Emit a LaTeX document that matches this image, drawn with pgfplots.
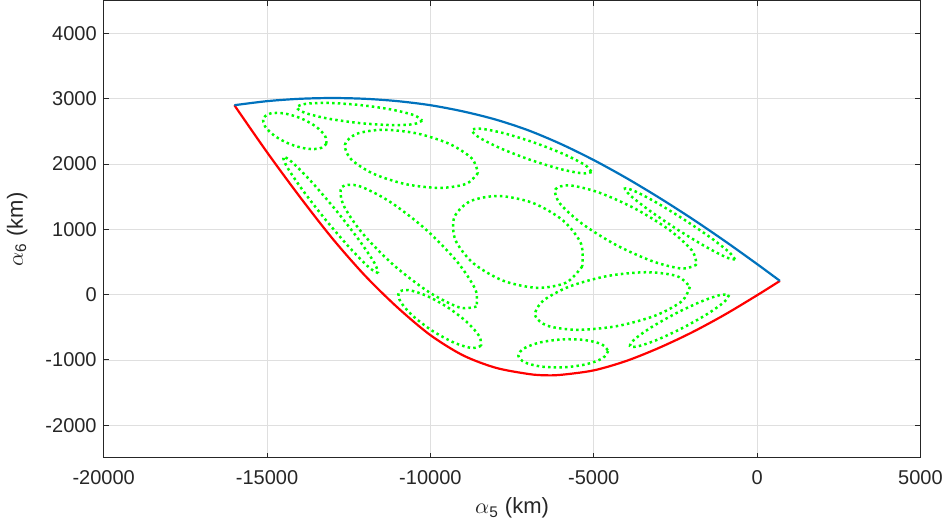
\documentclass[border=0pt]{standalone}
\usepackage{fontspec}
\setmainfont{Liberation Sans}
\usepackage{pgfplots}
\pgfplotsset{compat=1.18}
\definecolor{mblue}{rgb}{0,0.447,0.741}
\definecolor{axgray}{rgb}{0.15,0.15,0.15}
\definecolor{gridgray}{rgb}{0.875,0.875,0.875}
\begin{document}
\begin{tikzpicture}
\begin{axis}[name=ax, scale only axis, width=408.35pt, height=228.6pt,
  xmin=-20000, xmax=5000, ymin=-2500, ymax=4500,
  xtick={-20000,-15000,-10000,-5000,0,5000},
  ytick={-2000,-1000,0,1000,2000,3000,4000},
  scaled ticks=false,
  /pgf/number format/1000 sep={},
  /pgf/number format/assume math mode=true,
  grid=major, major grid style={gridgray, line width=0.4pt},
  axis line style={axgray, line width=0.45pt},
  tick style={axgray, line width=0.45pt}, tick align=inside, major tick length=2.5pt,
  ticklabel style={font=\fontsize{10}{12}\selectfont, text=axgray},
  xticklabel style={yshift=-3pt},
  label style={font=\fontsize{11}{13}\selectfont, text=axgray},
  xlabel={$\alpha$\textsubscript{5} (km)},
  ylabel={$\alpha$\textsubscript{6} (km)},
  xlabel style={at={(axis description cs:0.5,-0.11)}, anchor=center},
  ylabel style={at={(axis description cs:-0.106,0.5)}, anchor=center},
]
% lower boundary
\addplot[red, line width=1.1pt, smooth] coordinates {
(-16000,2900) (-15000,2180) (-14000,1500) (-13000,860) (-12000,290) (-11000,-200)
(-10000,-620) (-9000,-930) (-8000,-1120) (-7000,-1215) (-6500,-1235) (-6000,-1228)
(-5000,-1160) (-4000,-1015) (-3000,-815) (-2000,-580) (-1000,-310) (0,-10) (700,210)};
% upper boundary
\addplot[mblue, line width=1.1pt, smooth] coordinates {
(-16000,2900) (-15000,2962) (-14000,2998) (-13000,3010) (-12000,2998) (-11000,2962)
(-10000,2900) (-9000,2805) (-8000,2680) (-7000,2515) (-6000,2305) (-5000,2060)
(-4000,1785) (-3000,1485) (-2000,1165) (-1000,825) (0,468) (700,210)};
% ellipses
\pgfplotsset{ell/.style={green, line width=1.25pt, dash pattern=on 1.25pt off 1.6pt, smooth}}
\addplot[ell] coordinates {(-13180,2310) (-13390,2237) (-13802,2235) (-14306,2306) (-14767,2430) (-15061,2575) (-15110,2700) (-14900,2773) (-14489,2775) (-13985,2704) (-13524,2580) (-13229,2436) (-13180,2310)};
\addplot[ell] coordinates {(-10252,2664) (-10524,2609) (-11236,2596) (-12199,2628) (-13154,2697) (-13845,2784) (-14088,2866) (-13816,2921) (-13104,2934) (-12141,2902) (-11186,2833) (-10495,2746) (-10252,2664)};
\addplot[ell] coordinates {(-8543,1863) (-8899,1697) (-9704,1634) (-10745,1690) (-11740,1850) (-12425,2072) (-12615,2296) (-12259,2461) (-11454,2524) (-10414,2468) (-9418,2308) (-8733,2086) (-8543,1863)};
\addplot[ell] coordinates {(-11598,329) (-11875,415) (-12467,716) (-13215,1151) (-13918,1605) (-14389,1956) (-14500,2109) (-14223,2024) (-13631,1723) (-12883,1287) (-12180,833) (-11709,482) (-11598,329)};
\addplot[ell] coordinates {(-8589,-182) (-9109,-197) (-10041,38) (-11137,458) (-12101,952) (-12677,1388) (-12709,1648) (-12189,1663) (-11257,1428) (-10161,1008) (-9197,514) (-8621,78) (-8589,-182)};
\addplot[ell] coordinates {(-5353,431) (-5843,184) (-6726,104) (-7766,212) (-8684,480) (-9233,835) (-9268,1183) (-8777,1430) (-7894,1510) (-6854,1402) (-5936,1134) (-5387,779) (-5353,431)};
\addplot[ell] coordinates {(-5064,1877) (-5354,1857) (-6057,1927) (-6985,2071) (-7889,2248) (-8527,2412) (-8728,2519) (-8438,2539) (-7735,2469) (-6807,2325) (-5903,2148) (-5265,1984) (-5064,1877)};
\addplot[ell] coordinates {(-1851,460) (-2288,398) (-3187,508) (-4308,758) (-5349,1083) (-6033,1394) (-6175,1610) (-5738,1672) (-4839,1563) (-3718,1312) (-2677,988) (-1993,676) (-1851,460)};
\addplot[ell] coordinates {(-675,538) (-950,572) (-1604,743) (-2460,1004) (-3289,1286) (-3869,1513) (-4045,1624) (-3770,1590) (-3117,1420) (-2261,1158) (-1431,876) (-851,649) (-675,538)};
\addplot[ell] coordinates {(-2057,120) (-2304,-102) (-3119,-322) (-4285,-482) (-5489,-539) (-6408,-478) (-6796,-316) (-6549,-94) (-5733,126) (-4567,286) (-3363,343) (-2445,282) (-2057,120)};
\addplot[ell] coordinates {(-8448,-783) (-8733,-818) (-9279,-734) (-9939,-554) (-10537,-325) (-10912,-110) (-10964,35) (-10679,70) (-10133,-14) (-9473,-194) (-8875,-423) (-8500,-638) (-8448,-783)};
\addplot[ell] coordinates {(-4556,-863) (-4730,-975) (-5225,-1066) (-5910,-1113) (-6600,-1102) (-7112,-1037) (-7308,-935) (-7135,-823) (-6639,-732) (-5954,-685) (-5264,-696) (-4752,-761) (-4556,-863)};
\addplot[ell] coordinates {(-860,-6) (-1007,-113) (-1520,-296) (-2263,-506) (-3035,-687) (-3631,-790) (-3890,-788) (-3743,-681) (-3230,-498) (-2487,-288) (-1715,-107) (-1119,-4) (-860,-6)};
\end{axis}
\pgfresetboundingbox
\path ([shift={(-51.85pt,-36.55pt)}]ax.south west) rectangle ([shift={(13.8pt,0.35pt)}]ax.north east);
\end{tikzpicture}
\end{document}
